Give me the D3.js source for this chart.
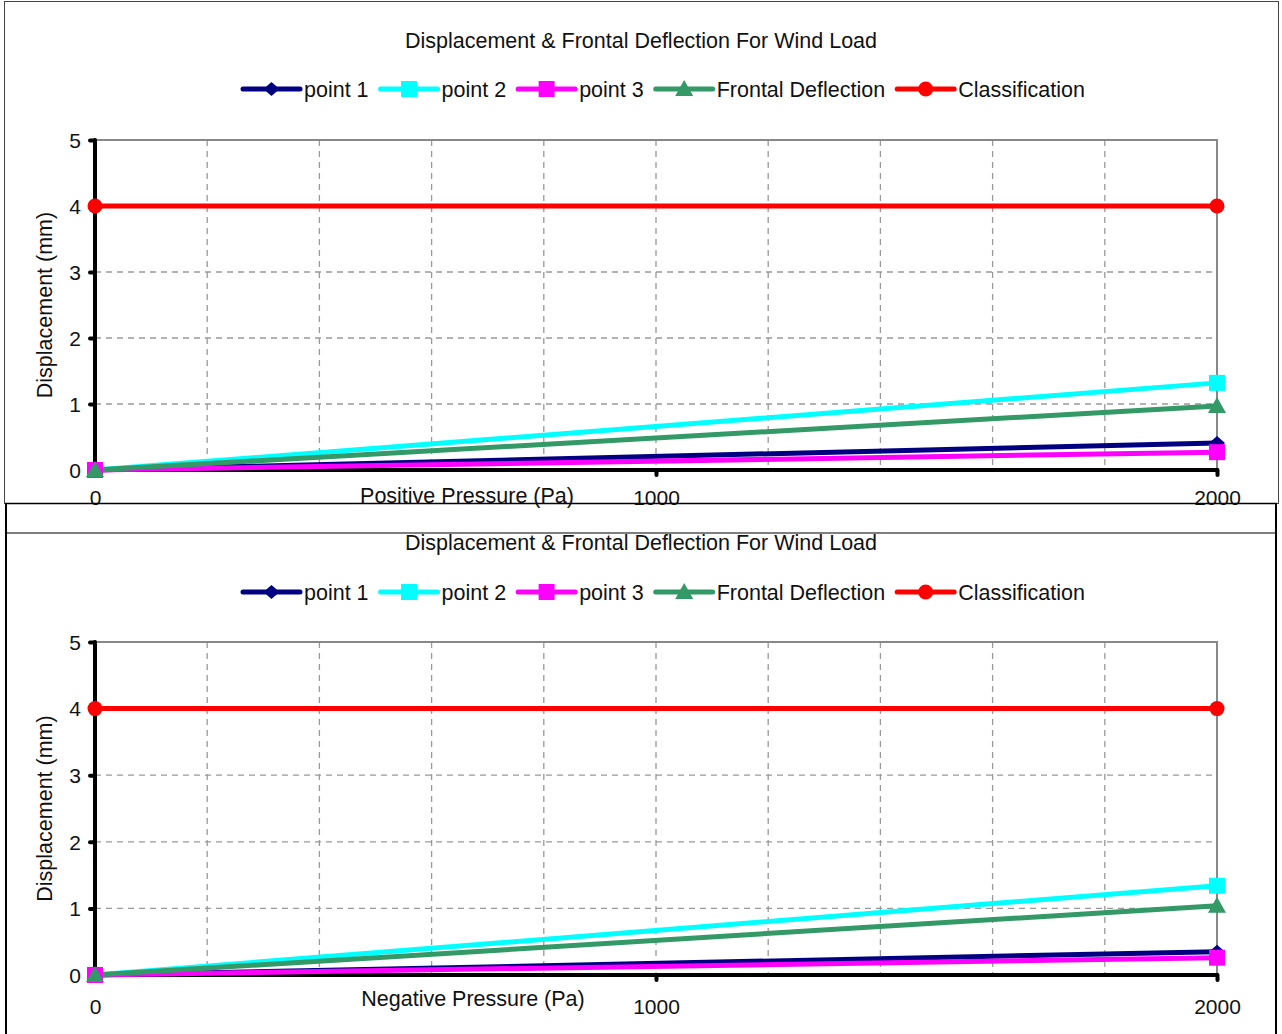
<!DOCTYPE html>
<html><head><meta charset="utf-8">
<script src="https://cdn.jsdelivr.net/npm/d3@7"></script>
<style>body{margin:0;background:#fff}svg{display:block;font-family:"Liberation Sans",Arial,sans-serif}</style>
</head><body>
<svg id="c" width="1282" height="1034"></svg>
<script>
// ---- data ----
const chartTitle = "Displacement & Frontal Deflection For Wind Load";
const pressures = [0, 2000];
const xTicks = [0, 1000, 2000];
const yTicks = [0, 1, 2, 3, 4, 5];
const seriesNames = ["point 1", "point 2", "point 3", "Frontal Deflection", "Classification"];
const seriesColors = ["#000080", "#00FFFF", "#FF00FF", "#339966", "#FF0000"];
const seriesMarkers = ["diamond", "square", "square", "triangle", "circle"];
// positive pressure
const posPoint1 = [0, 0.41];
const posPoint2 = [0, 1.32];
const posPoint3 = [0, 0.27];
const posFrontal = [0, 0.97];
const posClass = [4, 4];
// negative pressure
const negPoint1 = [0, 0.35];
const negPoint2 = [0, 1.34];
const negPoint3 = [0, 0.26];
const negFrontal = [0, 1.04];
const negClass = [4, 4];

const svg = d3.select("#c");
const FS = 21.5;

// top frame
svg.append("rect").attr("x",4.5).attr("y",1.5).attr("width",1274).attr("height",502)
  .attr("fill","none").attr("stroke","#444").attr("stroke-width",1);

function drawChart(cfg){
  const g = svg.append("g");
  const x = d3.scaleLinear().domain([0,2000]).range([95,1217]);
  const y = d3.scaleLinear().domain([0,5]).range([cfg.bottom,cfg.top]);
  // title
  g.append("text").attr("x",641).attr("y",cfg.titleY).attr("text-anchor","middle")
    .attr("font-size",FS).attr("fill","#111").text(chartTitle);
  // grid
  const vgrid = d3.range(200,2000,200);
  g.selectAll(".vg").data(vgrid).join("line").attr("x1",d=>x(d)).attr("x2",d=>x(d))
    .attr("y1",y(5)).attr("y2",y(0)).attr("stroke","#999").attr("stroke-width",1.3).attr("stroke-dasharray","6,5");
  g.selectAll(".hg").data(yTicks.slice(1,5)).join("line").attr("x1",x(0)).attr("x2",x(2000))
    .attr("y1",d=>y(d)).attr("y2",d=>y(d)).attr("stroke","#999").attr("stroke-width",1.3).attr("stroke-dasharray","6,5");
  // plot border top/right
  g.append("path").attr("d",`M${x(0)},${y(5)}H${x(2000)}V${y(0)}`).attr("fill","none").attr("stroke","#888").attr("stroke-width",2);
  // y axis
  const ya = d3.axisLeft(y).tickValues(yTicks).tickSize(5).tickPadding(9).tickFormat(d3.format("d"));
  const yg = g.append("g").attr("transform",`translate(${x(0)},0)`).call(ya);
  yg.select(".domain").attr("d",`M0,${y(5)}V${y(0)}`).attr("stroke","#000").attr("stroke-width",4).attr("stroke-linecap","round");
  yg.selectAll(".tick line").attr("stroke","#000").attr("stroke-width",4).attr("stroke-linecap","round");
  yg.selectAll(".tick text").attr("font-size",21).attr("fill","#111").attr("font-family","Liberation Sans, Arial, sans-serif").attr("dy","0.35em");
  // x axis
  const xa = d3.axisBottom(x).tickValues(xTicks).tickSize(5).tickPadding(cfg.xPad).tickFormat(d3.format("d"));
  const xg = g.append("g").attr("transform",`translate(0,${y(0)})`).call(xa);
  xg.select(".domain").attr("d",`M${x(0)},0H${x(2000)}`).attr("stroke","#000").attr("stroke-width",4).attr("stroke-linecap","round");
  xg.selectAll(".tick line").attr("stroke","#000").attr("stroke-width",4).attr("stroke-linecap","round");
  xg.selectAll(".tick text").attr("font-size",21).attr("fill","#111").attr("font-family","Liberation Sans, Arial, sans-serif");
  // axis titles
  g.append("text").attr("x",cfg.xTitleX).attr("y",cfg.xTitleY).attr("text-anchor","middle").attr("font-size",FS).attr("fill","#111").text(cfg.xTitle);
  g.append("text").attr("transform",`translate(52,${(y(0)+y(5))/2}) rotate(-90)`).attr("text-anchor","middle").attr("font-size",FS).attr("fill","#111").text("Displacement (mm)");
  // series
  const line = d3.line().x((d,i)=>x(pressures[i])).y(d=>y(d));
  cfg.series.forEach((vals,k)=>{
    g.append("path").datum(vals).attr("d",line).attr("fill","none").attr("stroke",seriesColors[k]).attr("stroke-width",5);
  });
  cfg.series.forEach((vals,k)=>{
    vals.forEach((v,i)=>drawMarker(g, x(pressures[i]), y(v), k));
  });
  // legend
  let lx = 243;
  seriesNames.forEach((n,k)=>{
    const ly = cfg.legendY;
    g.append("line").attr("x1",lx).attr("x2",lx+57).attr("y1",ly).attr("y2",ly).attr("stroke",seriesColors[k]).attr("stroke-width",5).attr("stroke-linecap","round");
    drawMarker(g, lx+28.5, ly, k);
    const t = g.append("text").attr("x",lx+61).attr("y",ly+7.5).attr("font-size",FS).attr("fill","#111").text(n);
    const w = t.node().getComputedTextLength();
    lx = lx + 61 + w + 12;
  });
}

function drawMarker(g, cx, cy, k){
  const m = seriesMarkers[k], c = seriesColors[k];
  if (m==="diamond") g.append("path").attr("d",`M${cx},${cy-7}L${cx+8},${cy}L${cx},${cy+7}L${cx-8},${cy}Z`).attr("fill",c);
  else if (m==="square") g.append("rect").attr("x",cx-8).attr("y",cy-8).attr("width",16).attr("height",16).attr("fill",c);
  else if (m==="triangle") g.append("path").attr("d",`M${cx},${cy-9}L${cx+9},${cy+7}L${cx-9},${cy+7}Z`).attr("fill",c);
  else g.append("circle").attr("cx",cx).attr("cy",cy).attr("r",7.5).attr("fill",c);
}

drawChart({top:140,bottom:470,titleY:48,legendY:89,xTitle:"Positive Pressure (Pa)",xTitleX:467,xTitleY:503,xPad:15,
  series:[posPoint1,posPoint2,posPoint3,posFrontal,posClass]});

// second frame lines
svg.append("line").attr("x1",5).attr("x2",1277).attr("y1",503.5).attr("y2",503.5).attr("stroke","#000").attr("stroke-width",1.5);
svg.append("line").attr("x1",5).attr("x2",1277).attr("y1",533).attr("y2",533).attr("stroke","#000").attr("stroke-width",1.2);
svg.append("line").attr("x1",6).attr("x2",6).attr("y1",503).attr("y2",1034).attr("stroke","#000").attr("stroke-width",2);
svg.append("line").attr("x1",1276).attr("x2",1276).attr("y1",503).attr("y2",1034).attr("stroke","#000").attr("stroke-width",2);

drawChart({top:642,bottom:975,titleY:550,legendY:592,xTitle:"Negative Pressure (Pa)",xTitleX:473,xTitleY:1006,xPad:19,
  series:[negPoint1,negPoint2,negPoint3,negFrontal,negClass]});
</script>
</body></html>
